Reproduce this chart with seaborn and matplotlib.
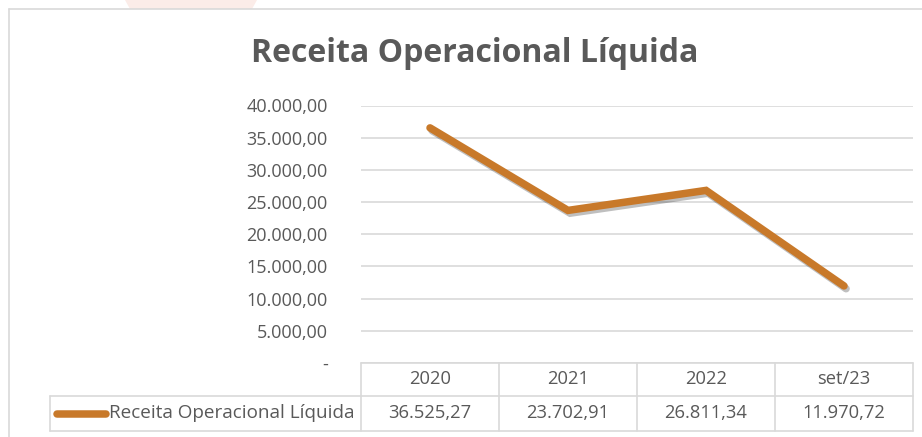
import matplotlib
matplotlib.use("Agg")
import matplotlib.pyplot as plt
import matplotlib.patheffects as pe
import matplotlib.transforms as mtransforms
from matplotlib.lines import Line2D
from matplotlib.patches import Polygon
import numpy as np
import pandas as pd
import seaborn as sns

# data
periods = ["2020", "2021", "2022", "set/23"]
receita = [36525.27, 23702.91, 26811.34, 11970.72]
series_name = "Receita Operacional Líquida"
yticks = [0, 5000, 10000, 15000, 20000, 25000, 30000, 35000, 40000]

df = pd.DataFrame({"periodo": periods, "valor": receita, "pos": np.arange(len(periods))})

sns.set_theme(style="white")
plt.rcParams["font.family"] = ["Open Sans", "DejaVu Sans"]

W, H = 922, 437
grey_txt = "#595959"
grid_col = "#D9D9D9"
orange = "#C8792A"


def fx(px):
    return px / W


def fy(py):
    return 1 - py / H


def br(v):
    # brazilian number format 12.345,67
    if v == 0:
        return "-"
    s = f"{v:,.2f}"
    return s.replace(",", "X").replace(".", ",").replace("X", ".")


fig = plt.figure(figsize=(W / 100, H / 100), dpi=100)

# faint decoration behind the top border
fig.add_artist(Polygon([[fx(125), fy(0)], [fx(257), fy(0)], [fx(252), fy(9)], [fx(130), fy(9)]],
                       closed=True, facecolor="#FBECE8", edgecolor="none", transform=fig.transFigure))

# chart border
fig.add_artist(Line2D([fx(9), fx(9)], [fy(9), fy(437)], color=grid_col, lw=1.2, transform=fig.transFigure))
fig.add_artist(Line2D([fx(9), fx(922)], [fy(9), fy(9)], color=grid_col, lw=1.2, transform=fig.transFigure))

top, bottom, left, right = 105.5, 363, 361, 913
ax = fig.add_axes([fx(left), fy(bottom), (right - left) / W, (bottom - top) / H])

sns.lineplot(data=df, x="pos", y="valor", ax=ax, color=orange, linewidth=5.4,
             solid_capstyle="round", solid_joinstyle="miter", legend=False,
             path_effects=[pe.SimpleLineShadow(offset=(1.5, -2), alpha=0.25, shadow_color="black"),
                           pe.Normal()])

ax.set_xlim(-0.5, len(periods) - 0.5)
ax.set_ylim(0, 40000)
ax.set_yticks(yticks)
ax.set_yticklabels([br(v) for v in yticks], color=grey_txt, fontsize=13)
ax.set_xticks([])
ax.set_xlabel("")
ax.set_ylabel("")
ax.tick_params(axis="y", length=0, pad=24)
ax.yaxis.grid(True, color=grid_col, linewidth=1.2)
ax.set_axisbelow(True)
for sp in ax.spines.values():
    sp.set_visible(False)

fig.text(0.5 * (fx(253) + fx(697)), fy(53), "Receita Operacional Líquida", ha="center", va="center",
         fontsize=23, fontweight="bold", color=grey_txt)

# data table under the plot
bt = mtransforms.blended_transform_factory(ax.transData, fig.transFigure)
row1_top, row1_bot, row2_bot = 363, 396, 431
xl, xr = -0.5, len(periods) - 0.5
lw = 1.2
for y in [row1_top, row1_bot]:
    ax.add_line(Line2D([xl, xr], [fy(y), fy(y)], color=grid_col, lw=lw, transform=bt, clip_on=False))
for i in range(len(periods) + 1):
    x = xl + i
    ax.add_line(Line2D([x, x], [fy(row1_top), fy(row2_bot)], color=grid_col, lw=lw, transform=bt, clip_on=False))
# label cell of the data row
fig.add_artist(Line2D([fx(50), fx(left)], [fy(row1_bot), fy(row1_bot)], color=grid_col, lw=lw, transform=fig.transFigure))
fig.add_artist(Line2D([fx(50), fx(right)], [fy(row2_bot), fy(row2_bot)], color=grid_col, lw=lw, transform=fig.transFigure))
fig.add_artist(Line2D([fx(50), fx(50)], [fy(row1_bot), fy(row2_bot)], color=grid_col, lw=lw, transform=fig.transFigure))

for i, (p, v) in enumerate(zip(periods, receita)):
    ax.text(i, fy((row1_top + row1_bot) / 2), p, transform=bt, ha="center", va="center",
            fontsize=13.2, color=grey_txt, clip_on=False)
    ax.text(i, fy((row1_bot + row2_bot) / 2), br(v), transform=bt, ha="center", va="center",
            fontsize=13.2, color=grey_txt, clip_on=False)

ymid = fy((row1_bot + row2_bot) / 2)
fig.add_artist(Line2D([fx(57), fx(106)], [ymid, ymid], color=orange, lw=5.4,
                      solid_capstyle="round", transform=fig.transFigure))
fig.text(fx(109), ymid, series_name, ha="left", va="center", fontsize=13.6, color=grey_txt)

fig.savefig("out.png", dpi=100)
